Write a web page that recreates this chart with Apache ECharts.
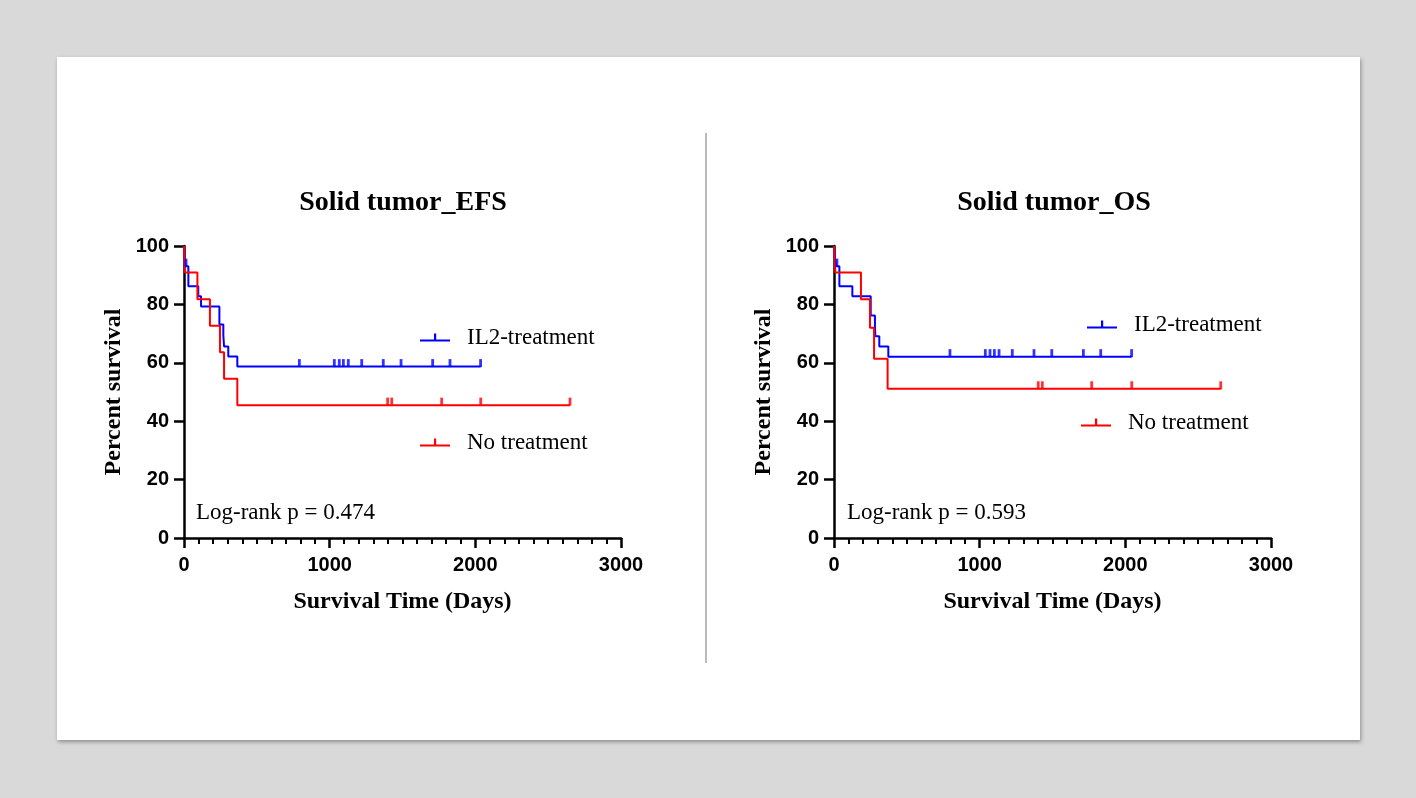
<!DOCTYPE html>
<html><head><meta charset="utf-8">
<script src="https://cdn.jsdelivr.net/npm/echarts@6/dist/echarts.min.js"></script>
<style>html,body{margin:0;padding:0;background:#d9d9d9}#c{width:1416px;height:798px}</style>
</head><body><div id="c"></div>
<script>
// ---- axis settings ----
const xMax = 3000, xStep = 1000;
const yMax = 100, yStep = 20;
const titles = ['Solid tumor_EFS', 'Solid tumor_OS'];
const pValues = ['Log-rank p = 0.474', 'Log-rank p = 0.593'];
const seriesNames = ['IL2-treatment', 'No treatment'];

// ---- EFS: IL2-treatment (step times in days, survival % after each step) ----
const efsIL2Time = [0, 3, 10, 30, 98, 117, 243, 270, 275, 304, 366];
const efsIL2Surv = [100, 96.6, 93.1, 86.2, 82.8, 79.3, 73.1, 69.5, 65.6, 62.2, 58.7];
const efsIL2End = 2036;
const efsIL2Censor = [14, 792, 1032, 1066, 1094, 1128, 1220, 1368, 1490, 1707, 1826, 2036];

// ---- EFS: No treatment ----
const efsNoTime = [0, 7, 92, 178, 247, 275, 366];
const efsNoSurv = [100, 90.9, 81.8, 72.7, 63.6, 54.5, 45.5];
const efsNoEnd = 2650;
const efsNoCensor = [1398, 1426, 1769, 2037, 2650];

// ---- OS: IL2-treatment ----
const osIL2Time = [0, 5, 14, 37, 126, 252, 281, 284, 311, 373];
const osIL2Surv = [100, 96.6, 93.1, 86.2, 82.8, 76.2, 72.6, 69.1, 65.6, 62.1];
const osIL2End = 2043;
const osIL2Censor = [20, 796, 1039, 1071, 1101, 1133, 1224, 1373, 1495, 1712, 1831, 2043];

// ---- OS: No treatment ----
const osNoTime = [0, 9, 185, 247, 275, 368];
const osNoSurv = [100, 90.9, 81.8, 72.0, 61.4, 51.1];
const osNoEnd = 2655;
const osNoCensor = [1402, 1430, 1769, 2044, 2655];

const BLUE = '#0000ff', RED = '#ff0000';
const serif = '"Liberation Serif", "Times New Roman", serif';
const sans = '"Liberation Sans", Arial, sans-serif';

function stepData(times, surv, end) {
  const d = times.map((t, i) => [t, surv[i]]);
  d.push([end, surv[surv.length - 1]]);
  return d;
}
function survAt(times, surv, t) {
  let v = surv[0];
  for (let i = 0; i < times.length; i++) if (times[i] <= t) v = surv[i];
  return v;
}
function censorData(times, surv, cens) {
  return cens.map(t => [t, survAt(times, surv, t)]);
}

const panels = [
  {left: 184, titleX: 398, il2: [efsIL2Time, efsIL2Surv, efsIL2End, efsIL2Censor], no: [efsNoTime, efsNoSurv, efsNoEnd, efsNoCensor]},
  {left: 834, titleX: 1049, il2: [osIL2Time, osIL2Surv, osIL2End, osIL2Censor], no: [osNoTime, osNoSurv, osNoEnd, osNoCensor]}
];
const gridW = 437, gridTop = 246, gridH = 292;

const grid = [], xAxis = [], yAxis = [], series = [], title = [];
panels.forEach((p, k) => {
  grid.push({left: p.left, top: gridTop, width: gridW, height: gridH});
  title.push({text: titles[k], left: p.titleX, top: 184, textAlign: 'center',
    textStyle: {fontFamily: serif, fontWeight: 'bold', fontSize: 28, color: '#000'}});
  xAxis.push({gridIndex: k, type: 'value', min: 0, max: xMax, interval: xStep,
    name: 'Survival Time (Days)', nameLocation: 'middle', nameGap: 52,
    nameTextStyle: {fontFamily: serif, fontWeight: 'bold', fontSize: 24, color: '#000'},
    axisLine: {onZero: false, lineStyle: {color: '#000', width: 2.5}},
    axisTick: {length: 10, lineStyle: {color: '#000', width: 2.5}},
    minorTick: {show: true, splitNumber: 10, length: 6, lineStyle: {color: '#000', width: 2}},
    splitLine: {show: false},
    axisLabel: {fontFamily: sans, fontWeight: 'bold', fontSize: 20, color: '#000', margin: 17,
      formatter: v => String(v)}});
  yAxis.push({gridIndex: k, type: 'value', min: 0, max: yMax, interval: yStep,
    name: 'Percent survival', nameLocation: 'middle', nameGap: 58,
    nameTextStyle: {fontFamily: serif, fontWeight: 'bold', fontSize: 24, color: '#000'},
    axisLine: {show: true, lineStyle: {color: '#000', width: 2.5}},
    axisTick: {show: true, length: 10, lineStyle: {color: '#000', width: 2.5}},
    splitLine: {show: false},
    axisLabel: {fontFamily: sans, fontWeight: 'bold', fontSize: 20, color: '#000', margin: 15,
      formatter: v => String(v)}});
  [[p.il2, seriesNames[0], BLUE], [p.no, seriesNames[1], RED]].forEach(([d, name, col]) => {
    series.push({type: 'line', name: name, xAxisIndex: k, yAxisIndex: k, step: 'end',
      showSymbol: false, symbol: 'none', color: col, lineStyle: {color: col, width: 2},
      data: stepData(d[0], d[1], d[2]), z: 3, animation: false});
    series.push({type: 'scatter', name: name + ' censored', xAxisIndex: k, yAxisIndex: k,
      symbol: 'rect', symbolSize: [2.8, 8], symbolOffset: [0, -3.5], color: col,
      itemStyle: {color: col}, data: censorData(d[0], d[1], d[3]), z: 4, animation: false});
  });
});

const legIcon = 'path://M0,7h30v2h-30z M14,1h2.2v7h-2.2z';
function leg(name, left, cy) {
  return {data: [name], left: left, top: cy - 14, icon: legIcon, itemWidth: 30, itemHeight: 8,
    selectedMode: false,
    textStyle: {fontFamily: serif, fontSize: 23, color: '#000', padding: [0, 0, 0, 12]}};
}

const option = {
  backgroundColor: '#d9d9d9',
  animation: false,
  title: title,
  grid: grid, xAxis: xAxis, yAxis: yAxis, series: series,
  legend: [leg(seriesNames[0], 415, 335), leg(seriesNames[1], 415, 440),
           leg(seriesNames[0], 1082, 322), leg(seriesNames[1], 1076, 420)],
  graphic: [
    {type: 'rect', z: -10, shape: {x: 57, y: 57, width: 1303, height: 683},
      style: {fill: '#fff', shadowBlur: 4, shadowOffsetX: 1, shadowOffsetY: 2, shadowColor: 'rgba(0,0,0,0.35)'}},
    {type: 'line', z: -5, shape: {x1: 706, y1: 133, x2: 706, y2: 663}, style: {stroke: '#8c8c8c', lineWidth: 1.2}},
    {type: 'text', x: 196, y: 513, style: {text: pValues[0], fontFamily: serif, fontSize: 23, fill: '#000', verticalAlign: 'middle'}},
    {type: 'text', x: 847, y: 513, style: {text: pValues[1], fontFamily: serif, fontSize: 23, fill: '#000', verticalAlign: 'middle'}}
  ]
};
const chart = echarts.init(document.getElementById('c'));
chart.setOption(option);
</script></body></html>
